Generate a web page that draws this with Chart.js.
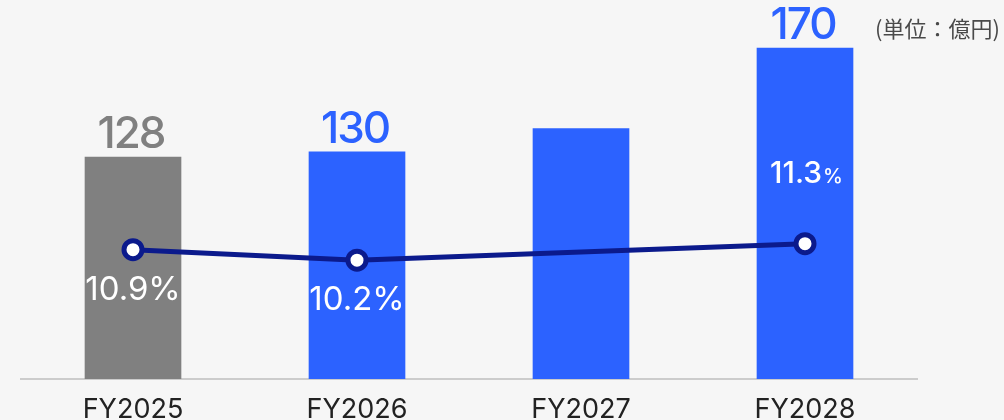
<!DOCTYPE html>
<html>
<head>
<meta charset="utf-8">
<script src="https://cdn.jsdelivr.net/npm/chart.js@4"></script>
<style>
  html, body { margin: 0; padding: 0; background: #f6f6f6; }
  #wrap { position: relative; width: 1004px; height: 420px; }
  #unit { position: absolute; left: 875px; top: 11px; font: 22px "Noto Sans CJK JP", sans-serif; color: #4a4a4a; white-space: nowrap; }
</style>
</head>
<body>
<div id="wrap">
  <canvas id="chart" width="1004" height="420"></canvas>
  <div id="unit">(単位：億円)</div>
</div>
<script>
const years = ['FY2025', 'FY2026', 'FY2027', 'FY2028'];
const sales = [128, 130, 139, 170];
const salesLabels = ['128', '130', '', '170'];
const margin = [10.9, 10.2, null, 11.3];
const marginLabels = ['10.9', '10.2', '', '11.3'];

const GRAY = '#808080';
const BLUE = '#2c62ff';
const NAVY = '#0b1a8c';

// labels above bars and next to line points
const labelPlugin = {
  id: 'labels',
  afterDatasetsDraw(chart) {
    const ctx = chart.ctx;
    const x = chart.scales.x;
    const y = chart.scales.y;
    const y2 = chart.scales.y2;
    ctx.save();
    ctx.textAlign = 'center';
    ctx.textBaseline = 'alphabetic';
    sales.forEach((v, i) => {
      if (!salesLabels[i]) return;
      ctx.font = '500 44px Inter';
      ctx.letterSpacing = '-2px';
      ctx.fillStyle = i === 0 ? GRAY : BLUE;
      ctx.fillText(salesLabels[i], x.getPixelForValue(i) - 2, y.getPixelForValue(v) - 9);
    });
    ctx.letterSpacing = '0px';
    margin.forEach((v, i) => {
      if (v === null) return;
      const px = x.getPixelForValue(i);
      const py = y2.getPixelForValue(v);
      ctx.fillStyle = '#fff';
      if (i === 3) {
        ctx.font = '500 30px Inter';
        const w1 = ctx.measureText(marginLabels[i]).width;
        ctx.font = '500 20px Inter';
        const w2 = ctx.measureText('%').width;
        const left = px + 1 - (w1 + w2) / 2;
        ctx.textAlign = 'left';
        ctx.font = '500 30px Inter';
        ctx.fillText(marginLabels[i], left, py - 61);
        ctx.font = '500 20px Inter';
        ctx.fillText('%', left + w1 + 1, py - 61);
        ctx.textAlign = 'center';
      } else {
        ctx.font = '33px Inter';
        ctx.fillText(marginLabels[i] + '%', px, py + 50);
      }
    });
    ctx.restore();
  }
};

new Chart(document.getElementById('chart'), {
  data: {
    labels: years,
    datasets: [
      {
        type: 'line',
        data: margin,
        yAxisID: 'y2',
        borderColor: NAVY,
        borderWidth: 5,
        spanGaps: true,
        pointRadius: 9,
        pointBorderWidth: 5,
        pointBackgroundColor: '#fff',
        pointBorderColor: NAVY,
        order: 0,
      },
      {
        type: 'bar',
        data: sales,
        yAxisID: 'y',
        backgroundColor: [GRAY, BLUE, BLUE, BLUE],
        barThickness: 96,
        order: 1,
      },
    ],
  },
  options: {
    responsive: false,
    animation: false,
    layout: { autoPadding: false, padding: { left: 21, right: 87, top: 0, bottom: 0 } },
    plugins: { legend: { display: false }, tooltip: { enabled: false } },
    scales: {
      x: {
        grid: { display: false, drawTicks: false },
        border: { color: '#cccccc', width: 2 },
        ticks: { color: '#222', font: { family: 'Inter', size: 27 }, padding: 15 },
        afterFit(scale) { scale.height = 41; },
      },
      y: { display: false, min: 42.5, max: 188.5 },
      y2: { display: false, min: 2.3, max: 27.5 },
    },
  },
  plugins: [labelPlugin],
});
</script>
</body>
</html>
